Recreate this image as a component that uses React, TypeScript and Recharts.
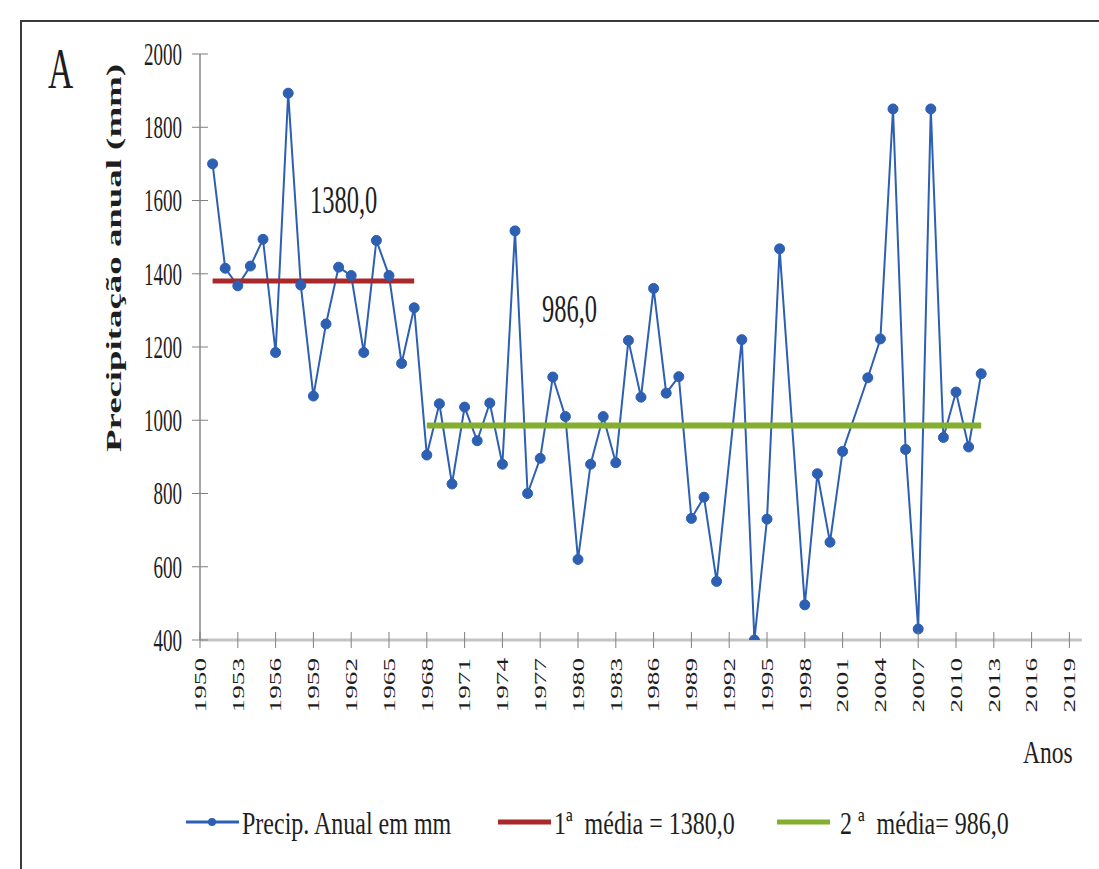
import { LineChart, Line, XAxis, YAxis } from "recharts";

// annual precipitation (mm), 1992, 1997 and 2002 have no value
const years = [
  1951, 1952, 1953, 1954, 1955, 1956, 1957, 1958, 1959, 1960,
  1961, 1962, 1963, 1964, 1965, 1966, 1967, 1968, 1969, 1970,
  1971, 1972, 1973, 1974, 1975, 1976, 1977, 1978, 1979, 1980,
  1981, 1982, 1983, 1984, 1985, 1986, 1987, 1988, 1989, 1990,
  1991, 1992, 1993, 1994, 1995, 1996, 1997, 1998, 1999, 2000,
  2001, 2002, 2003, 2004, 2005, 2006, 2007, 2008, 2009, 2010,
  2011, 2012,
];
const precip: (number | null)[] = [
  1700, 1415, 1367, 1421, 1494, 1185, 1893, 1369, 1066, 1263,
  1418, 1395, 1185, 1491, 1395, 1155, 1307, 905, 1045, 826,
  1036, 944, 1047, 880, 1517, 800, 896, 1118, 1010, 620,
  880, 1010, 884, 1218, 1063, 1360, 1074, 1119, 732, 790,
  560, null, 1220, 400, 730, 1468, null, 496, 854, 667,
  915, null, 1116, 1222, 1850, 920, 430, 1850, 953, 1077,
  927, 1127,
];

const mean1Years = [1951, 1967];
const mean1Value = 1380;
const mean2Years = [1968, 2012];
const mean2Value = 986;

const xTicks = [
  1950, 1953, 1956, 1959, 1962, 1965, 1968, 1971, 1974, 1977, 1980, 1983,
  1986, 1989, 1992, 1995, 1998, 2001, 2004, 2007, 2010, 2013, 2016, 2019,
];
const yTicks = [400, 600, 800, 1000, 1200, 1400, 1600, 1800, 2000];

const legendLabels = ["Precip. Anual em mm", "1ª  média = 1380,0", "2 ª  média= 986,0"];

const rows = years.map((year, i) => ({ year, precip: precip[i] }));
const mean1Rows = mean1Years.map((year) => ({ year, value: mean1Value }));
const mean2Rows = mean2Years.map((year) => ({ year, value: mean2Value }));

const BLUE = "#2d5fb3";
const RED = "#a8282b";
const GREEN = "#84ae2e";
const FONT = "'Liberation Serif', 'DejaVu Serif', serif";
const INK = "#1e1e1e";
const STRETCH = 1.65;

function XTick({ x, y, payload }: any) {
  return (
    <g>
      <line x1={x} x2={x} y1={y - 8} y2={y + 8} stroke="#808080" strokeWidth={1} />
      <text
        transform={`translate(${x},${y + 18}) scale(1,${STRETCH}) rotate(-90)`}
        textAnchor="end"
        dy="0.35em"
        fontSize={16.5}
        fontFamily={FONT}
        fill={INK}
      >
        {payload.value}
      </text>
    </g>
  );
}

function YTick({ x, y, payload }: any) {
  return (
    <g>
      <line x1={x - 8} x2={x + 8} y1={y} y2={y} stroke="#808080" strokeWidth={1} />
      <text
        transform={`translate(${x - 18},${y}) scale(1,${STRETCH})`}
        textAnchor="end"
        dy="0.35em"
        fontSize={19}
        fontFamily={FONT}
        fill={INK}
      >
        {payload.value}
      </text>
    </g>
  );
}

function StretchText({ x, y, size, sy, children, bold }: any) {
  return (
    <text
      transform={`translate(${x},${y}) scale(1,${sy})`}
      fontSize={size}
      fontFamily={FONT}
      fontWeight={bold ? 700 : 400}
      fill={INK}
      style={{ whiteSpace: "pre" }}
    >
      {children}
    </text>
  );
}

export default function App() {
  const legendColors = [BLUE, RED, GREEN];
  const legendX = [186, 498, 777];
  return (
    <div
      style={{
        position: "absolute",
        left: 0,
        top: 0,
        width: 1099,
        height: 869,
        overflow: "hidden",
        background: "#fff",
      }}
    >
      <div
        style={{
          position: "absolute",
          left: 20,
          top: 20,
          width: 1200,
          height: 1000,
          borderLeft: "2px solid #3a3a3a",
          borderTop: "2px solid #3a3a3a",
        }}
      />
      <LineChart
        width={1099}
        height={869}
        data={rows}
        margin={{ top: 54, right: 17, bottom: 159, left: 140 }}
        style={{ position: "absolute", left: 0, top: 0, fontFamily: FONT }}
      >
        <XAxis
          dataKey="year"
          type="number"
          domain={[1950, 2020]}
          ticks={xTicks}
          interval={0}
          height={70}
          tickSize={0}
          tickMargin={0}
          tickLine={false}
          axisLine={{ stroke: "#c4c4c4", strokeWidth: 3 }}
          tick={<XTick />}
          allowDataOverflow
        />
        <YAxis
          type="number"
          domain={[400, 2000]}
          ticks={yTicks}
          interval={0}
          width={60}
          tickSize={0}
          tickMargin={0}
          tickLine={false}
          axisLine={{ stroke: "#a6a6a6", strokeWidth: 2 }}
          tick={<YTick />}
          allowDataOverflow
        />
        <Line
          dataKey="precip"
          stroke={BLUE}
          strokeWidth={2}
          connectNulls
          dot={{ r: 5, fill: BLUE, stroke: BLUE, strokeWidth: 1 }}
          activeDot={false}
          isAnimationActive={false}
        />
        <Line
          data={mean1Rows}
          dataKey="value"
          stroke={RED}
          strokeWidth={5}
          dot={false}
          activeDot={false}
          isAnimationActive={false}
        />
        <Line
          data={mean2Rows}
          dataKey="value"
          stroke={GREEN}
          strokeWidth={6}
          dot={false}
          activeDot={false}
          isAnimationActive={false}
        />
      </LineChart>
      <svg
        width={1099}
        height={869}
        style={{ position: "absolute", left: 0, top: 0, pointerEvents: "none" }}
      >
        <StretchText x={48} y={88} size={35} sy={STRETCH}>A</StretchText>
        <text
          transform="translate(114,258) rotate(-90)"
          textAnchor="middle"
          dy="0.35em"
          fontSize={20}
          fontWeight={700}
          fontFamily={FONT}
          fill={INK}
          textLength={388}
          lengthAdjust="spacingAndGlyphs"
        >
          Precipitação anual (mm)
        </text>
        <StretchText x={310} y={213} size={24.5} sy={STRETCH}>1380,0</StretchText>
        <StretchText x={542} y={322} size={24.5} sy={1.6}>986,0</StretchText>
        <StretchText x={1023} y={763} size={23.5} sy={1.3}>Anos</StretchText>
        {legendLabels.map((label, i) => (
          <g key={label}>
            <line
              x1={legendX[i]}
              x2={legendX[i] + 53}
              y1={822}
              y2={822}
              stroke={legendColors[i]}
              strokeWidth={i === 0 ? 3 : 5}
            />
            {i === 0 && <circle cx={legendX[i] + 26} cy={822} r={4} fill={BLUE} />}
            <StretchText x={legendX[i] + (i === 2 ? 63 : 56)} y={834} size={24} sy={1.35}>
              {label}
            </StretchText>
          </g>
        ))}
      </svg>
    </div>
  );
}
